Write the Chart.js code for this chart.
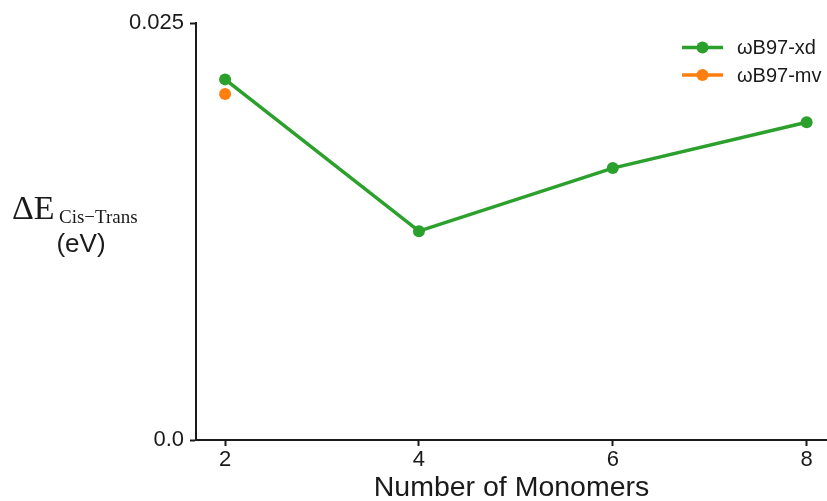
<!DOCTYPE html>
<html>
<head>
<meta charset="utf-8">
<script src="https://cdn.jsdelivr.net/npm/chart.js@4/dist/chart.umd.min.js"></script>
<style>
  html, body { margin: 0; padding: 0; background: #fff; overflow: hidden; }
</style>
</head>
<body>
<canvas id="chart" width="827" height="501"></canvas>
<script>
// data
const monomers = [2, 4, 6, 8];
const xdValues = [0.02162, 0.01252, 0.01630, 0.01905];
const mvMonomers = [2];
const mvValues = [0.02075];
const xTicks = [2, 4, 6, 8];
const yTicks = [0, 0.025];
const yTickLabels = ['0.0', '0.025'];
const seriesNames = ['\u03c9B97-xd', '\u03c9B97-mv'];

const green = '#2ca02c';
const orange = '#ff7f0e';
const ink = '#1a1a1a';

const toPoints = (xs, ys) => xs.map((x, i) => ({ x: x, y: ys[i] }));

// y axis title: ΔE with subscript, (eV) below
const yTitle = {
    id: 'yTitle',
    afterDraw(chart) {
        const ctx = chart.ctx;
        ctx.save();
        ctx.fillStyle = ink;
        ctx.textAlign = 'left';
        ctx.textBaseline = 'alphabetic';
        ctx.font = '34px "Liberation Serif", "Times New Roman", serif';
        ctx.fillText('\u0394E', 12, 219);
        ctx.font = '19px "Liberation Serif", "Times New Roman", serif';
        ctx.fillText('Cis\u2212Trans', 59, 223);
        ctx.textAlign = 'center';
        ctx.textBaseline = 'middle';
        ctx.font = '26px "Liberation Sans", Arial, sans-serif';
        ctx.fillText('(eV)', 81, 245);
        ctx.restore();
    }
};

// legend in the upper right, line with marker
const lineLegend = {
    id: 'lineLegend',
    afterDraw(chart) {
        const ctx = chart.ctx;
        const rows = [47.5, 75];
        ctx.save();
        chart.data.datasets.forEach((ds, i) => {
            const y = rows[i];
            ctx.strokeStyle = ds.borderColor;
            ctx.lineWidth = 3.5;
            ctx.beginPath();
            ctx.moveTo(682, y);
            ctx.lineTo(723, y);
            ctx.stroke();
            ctx.fillStyle = ds.borderColor;
            ctx.beginPath();
            ctx.arc(702.5, y, 6, 0, Math.PI * 2);
            ctx.fill();
            ctx.fillStyle = ink;
            ctx.font = '20px "Liberation Sans", Arial, sans-serif';
            ctx.textAlign = 'left';
            ctx.textBaseline = 'middle';
            ctx.fillText(ds.label, 737, y + 1);
        });
        ctx.restore();
    }
};

new Chart(document.getElementById('chart'), {
    type: 'line',
    data: {
        datasets: [{
            label: seriesNames[0],
            data: toPoints(monomers, xdValues),
            borderColor: green,
            backgroundColor: green,
            borderWidth: 3.5,
            pointRadius: 6,
            pointBorderWidth: 0,
            pointBackgroundColor: green,
            tension: 0
        }, {
            label: seriesNames[1],
            data: toPoints(mvMonomers, mvValues),
            borderColor: orange,
            backgroundColor: orange,
            borderWidth: 3.5,
            pointRadius: 6,
            pointBorderWidth: 0,
            pointBackgroundColor: orange
        }]
    },
    options: {
        responsive: false,
        animation: false,
        clip: false,
        layout: {
            autoPadding: false,
            padding: { top: 23, right: 0, bottom: 0, left: 0 }
        },
        scales: {
            x: {
                type: 'linear',
                min: 1.7,
                max: 8.21,
                afterBuildTicks: (scale) => { scale.ticks = xTicks.map(v => ({ value: v })); },
                afterFit: (scale) => { scale.height = 61; },
                ticks: {
                    color: ink,
                    padding: 1,
                    font: { size: 22, family: '"Liberation Sans", Arial, sans-serif' }
                },
                grid: {
                    drawOnChartArea: false,
                    drawTicks: true,
                    tickLength: 6,
                    tickWidth: 2,
                    tickColor: ink
                },
                border: { display: true, color: ink, width: 2 },
                title: {
                    display: true,
                    text: 'Number of Monomers',
                    color: ink,
                    padding: { top: 0, bottom: -1 },
                    font: { size: 28.5, family: '"Liberation Sans", Arial, sans-serif', lineHeight: 0.95 }
                }
            },
            y: {
                min: 0,
                max: 0.025,
                afterBuildTicks: (scale) => { scale.ticks = yTicks.map(v => ({ value: v })); },
                afterFit: (scale) => { scale.width = 196; },
                ticks: {
                    color: ink,
                    padding: 6,
                    font: { size: 22, family: '"Liberation Sans", Arial, sans-serif' },
                    callback: (v) => yTickLabels[yTicks.indexOf(v)]
                },
                grid: {
                    drawOnChartArea: false,
                    drawTicks: true,
                    tickLength: 6,
                    tickWidth: 2,
                    tickColor: ink
                },
                border: { display: true, color: ink, width: 2 }
            }
        },
        plugins: {
            legend: { display: false },
            tooltip: { enabled: false }
        }
    },
    plugins: [yTitle, lineLegend]
});
</script>
</body>
</html>
